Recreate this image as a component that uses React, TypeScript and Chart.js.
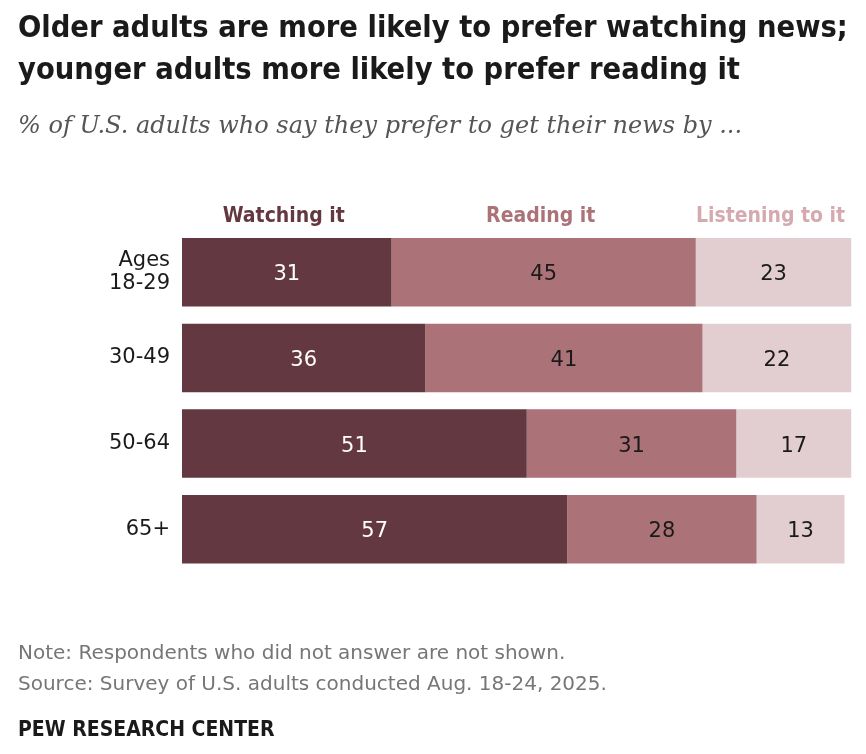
import React, { useEffect, useRef } from "react";
import { Chart, registerables } from "chart.js";

Chart.register(...registerables);

const ageGroups: (string | string[])[] = [["Ages", "18-29"], "30-49", "50-64", "65+"];
const watching = [31, 36, 51, 57];
const reading = [45, 41, 31, 28];
const listening = [23, 22, 17, 13];
const seriesNames = ["Watching it", "Reading it", "Listening to it"];

const barColors = ["#633841", "#ab7278", "#e2cdd0"];
const headerColors = ["#633841", "#ab7278", "#d4aab0"];
const valueColors = ["#ffffff", "#1a1a1a", "#1a1a1a"];

const titleLines = [
  "Older adults are more likely to prefer watching news;",
  "younger adults more likely to prefer reading it",
];
const subtitle = "% of U.S. adults who say they prefer to get their news by ...";
const noteLines = [
  "Note: Respondents who did not answer are not shown.",
  "Source: Survey of U.S. adults conducted Aug. 18-24, 2025.",
];
const credit = "PEW RESEARCH CENTER";

const W = 866;
const H = 754;
const cond = '"DejaVu Sans Condensed", "Liberation Sans", sans-serif';
const sans = '"DejaVu Sans", "Liberation Sans", sans-serif';

const textPlugin = {
  id: "pewText",
  afterDatasetsDraw(chart: any) {
    const ctx = chart.ctx as CanvasRenderingContext2D;
    ctx.save();

    // value labels centred in each segment
    ctx.font = `21px ${sans}`;
    ctx.textAlign = "center";
    ctx.textBaseline = "alphabetic";
    chart.data.datasets.forEach((ds: any, di: number) => {
      const meta = chart.getDatasetMeta(di);
      meta.data.forEach((el: any, i: number) => {
        ctx.fillStyle = valueColors[di];
        ctx.fillText(String(ds.data[i]), (el.x + el.base) / 2, el.y + 8);
      });
    });

    // column headers above the first row
    ctx.font = `bold 21px ${cond}`;
    chart.data.datasets.forEach((_ds: any, di: number) => {
      const el = chart.getDatasetMeta(di).data[0];
      ctx.fillStyle = headerColors[di];
      ctx.fillText(seriesNames[di], (el.x + el.base) / 2 - 3, 222);
    });

    // title, subtitle, notes
    ctx.textAlign = "left";
    ctx.fillStyle = "#1a1a1a";
    ctx.font = `bold 30.5px ${cond}`;
    ctx.fillText(titleLines[0], 18, 37);
    ctx.fillText(titleLines[1], 18, 79);

    ctx.fillStyle = "#555555";
    ctx.font = `italic 24px "DejaVu Serif", serif`;
    ctx.fillText(subtitle, 18, 133);

    ctx.fillStyle = "#767676";
    ctx.font = `20px ${sans}`;
    ctx.fillText(noteLines[0], 18, 659);
    ctx.fillText(noteLines[1], 18, 690);

    ctx.fillStyle = "#1a1a1a";
    ctx.font = `bold 21px ${cond}`;
    ctx.fillText(credit, 18, 736);

    ctx.restore();
  },
};

export default function App() {
  const ref = useRef<HTMLCanvasElement | null>(null);

  useEffect(() => {
    if (!ref.current) return;
    const values = [watching, reading, listening];
    const chart = new Chart(ref.current, {
      type: "bar",
      data: {
        labels: ageGroups,
        datasets: values.map((v, i) => ({
          label: seriesNames[i],
          data: v,
          backgroundColor: barColors[i],
          borderWidth: 0,
          categoryPercentage: 0.8,
          barPercentage: 1,
        })),
      },
      options: {
        indexAxis: "y",
        animation: false,
        responsive: false,
        maintainAspectRatio: false,
        layout: { padding: { left: 0, right: 8, top: 229.5, bottom: 182 } },
        plugins: {
          legend: { display: false },
          title: { display: false },
          tooltip: { enabled: false },
        },
        scales: {
          x: { stacked: true, display: false, min: 0, max: 100 },
          y: {
            stacked: true,
            border: { display: false },
            grid: { display: false, drawTicks: false },
            ticks: {
              color: "#1a1a1a",
              padding: 12,
              font: { family: sans, size: 21, lineHeight: 1.1 },
            },
            afterFit(scale: any) {
              scale.width = 182;
            },
          },
        },
      },
      plugins: [textPlugin],
    });
    return () => chart.destroy();
  }, []);

  return (
    <div style={{ position: "absolute", left: 0, top: 0, width: W, height: H, background: "#fff" }}>
      <canvas ref={ref} width={W} height={H} style={{ width: W, height: H, display: "block" }} />
    </div>
  );
}
